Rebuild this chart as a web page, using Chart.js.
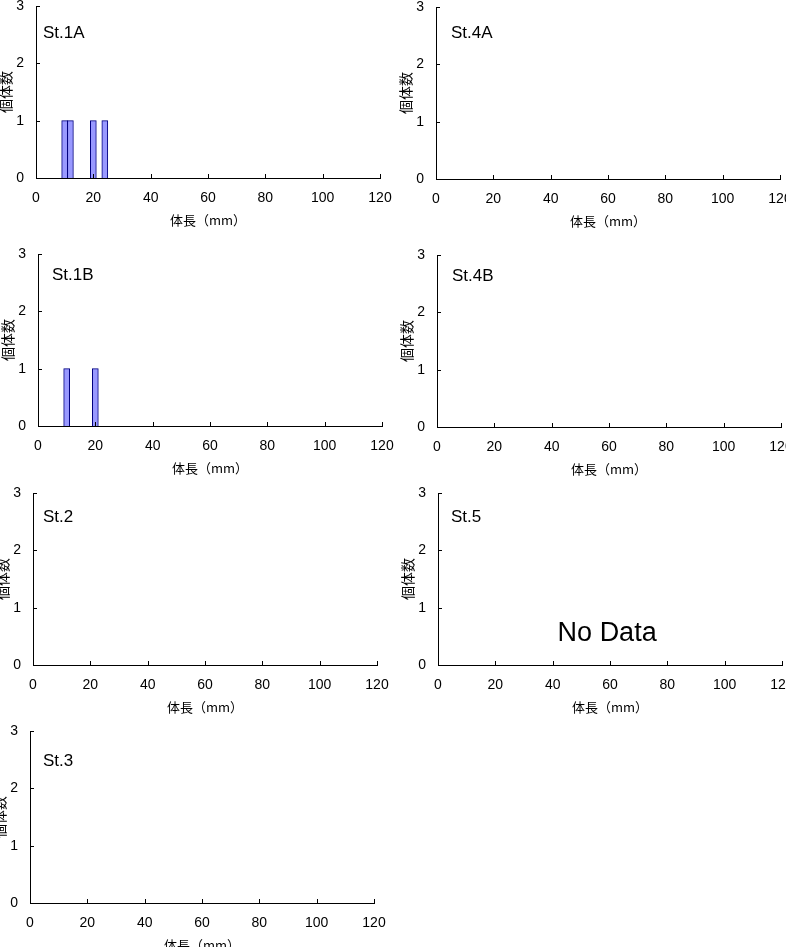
<!DOCTYPE html>
<html>
<head>
<meta charset="utf-8">
<script src="https://cdn.jsdelivr.net/npm/chart.js@4"></script>
<style>
  html, body { margin: 0; padding: 0; background: #fff; }
  body { width: 786px; height: 947px; position: relative; overflow: hidden; }
  .panel { position: absolute; }
</style>
</head>
<body>
<script>
// 体長ヒストグラム (各ステーション)
const xTicks = [0, 20, 40, 60, 80, 100, 120];
const yTicks = [0, 1, 2, 3];
const stations = ["St.1A", "St.4A", "St.1B", "St.4B", "St.2", "St.5", "St.3"];

const st1aLength = [10, 12, 20, 24];
const st1aCount = [1, 1, 1, 1];
const st4aLength = [];
const st4aCount = [];
const st1bLength = [10, 20];
const st1bCount = [1, 1];
const st4bLength = [];
const st4bCount = [];
const st2Length = [];
const st2Count = [];
const st5Length = [];
const st5Count = [];
const st3Length = [];
const st3Count = [];

const lengths = [st1aLength, st4aLength, st1bLength, st4bLength, st2Length, st5Length, st3Length];
const counts = [st1aCount, st4aCount, st1bCount, st4bCount, st2Count, st5Count, st3Count];
const notes = { "St.5": "No Data" };

// 配置 (軸の原点と、ラベルの位置)
const panels = [
  { axisX: 36,  top: 6,   dx: 7,  dy: 27 },
  { axisX: 436, top: 7,   dx: 15, dy: 26 },
  { axisX: 38,  top: 254, dx: 14, dy: 21 },
  { axisX: 437, top: 255, dx: 15, dy: 21 },
  { axisX: 33,  top: 493, dx: 10, dy: 24 },
  { axisX: 438, top: 493, dx: 13, dy: 24 },
  { axisX: 30,  top: 731, dx: 13, dy: 30 }
];

const PLOT_W = 344, PLOT_H = 172;
const Y_AXIS_W = 40, X_AXIS_H = 50, PAD_TOP = 10, PAD_RIGHT = 20;
const numFont = { family: "'Liberation Sans', Arial, sans-serif", size: 14 };
const jpFont = { family: "'Noto Sans CJK JP', sans-serif", size: 13 };
const jpFontY = { family: "'Noto Sans CJK JP', sans-serif", size: 14 };

// 内向きの目盛りとステーション名
const panelDecor = {
  id: "panelDecor",
  afterDraw(chart, args, opts) {
    const { ctx, scales: { x, y } } = chart;
    ctx.save();
    ctx.strokeStyle = "#000";
    ctx.lineWidth = 1;
    ctx.beginPath();
    x.ticks.forEach(t => {
      if (t.value === x.min) return;
      const px = Math.round(x.getPixelForValue(t.value)) + 0.5;
      ctx.moveTo(px, y.bottom);
      ctx.lineTo(px, y.bottom - 4);
    });
    y.ticks.forEach(t => {
      if (t.value === y.min) return;
      const py = Math.round(y.getPixelForValue(t.value)) + 0.5;
      ctx.moveTo(x.left, py);
      ctx.lineTo(x.left + 4, py);
    });
    ctx.stroke();

    ctx.fillStyle = "#000";
    ctx.textBaseline = "middle";
    ctx.textAlign = "left";
    ctx.font = "17px 'Liberation Sans', Arial, sans-serif";
    ctx.fillText(opts.name, x.left + opts.dx, y.top + opts.dy);

    if (opts.note) {
      ctx.textAlign = "center";
      ctx.font = "27px 'Liberation Sans', Arial, sans-serif";
      ctx.fillText(opts.note, x.getPixelForValue(59), y.getPixelForValue(0.55));
    }
    ctx.restore();
  }
};

stations.forEach((name, i) => {
  const p = panels[i];
  const canvas = document.createElement("canvas");
  canvas.className = "panel";
  const w = Y_AXIS_W + PLOT_W + PAD_RIGHT;
  const h = PAD_TOP + PLOT_H + X_AXIS_H;
  canvas.width = w;
  canvas.height = h;
  canvas.style.width = w + "px";
  canvas.style.height = h + "px";
  canvas.style.left = (p.axisX - Y_AXIS_W) + "px";
  canvas.style.top = (p.top - PAD_TOP) + "px";
  document.body.appendChild(canvas);

  const points = lengths[i].map((v, k) => ({ x: v, y: counts[i][k] }));

  new Chart(canvas.getContext("2d"), {
    type: "bar",
    data: {
      datasets: [{
        label: name,
        data: points,
        backgroundColor: "#9999ff",
        borderColor: "#000080",
        borderWidth: 1,
        barThickness: 6
      }]
    },
    options: {
      responsive: false,
      animation: false,
      layout: { padding: { top: PAD_TOP, right: PAD_RIGHT, left: 0, bottom: 0 } },
      plugins: {
        legend: { display: false },
        tooltip: { enabled: false },
        panelDecor: { name: name, dx: p.dx, dy: p.dy, note: notes[name] }
      },
      scales: {
        x: {
          type: "linear",
          offset: false,
          min: xTicks[0],
          max: xTicks[xTicks.length - 1],
          afterFit: s => { s.height = X_AXIS_H; s.paddingLeft = 0; s.paddingRight = 0; },
          grid: { display: false, drawTicks: false },
          border: { display: true, color: "#000", width: 1 },
          ticks: { stepSize: 20, padding: 12, color: "#000", font: numFont, maxRotation: 0 },
          title: { display: true, text: "体長（mm）", color: "#000", font: jpFont, padding: { top: 0, bottom: 0 } }
        },
        y: {
          min: yTicks[0],
          max: yTicks[yTicks.length - 1],
          afterFit: s => { s.width = Y_AXIS_W; s.paddingTop = 0; s.paddingBottom = 0; },
          grid: { display: false, drawTicks: false },
          border: { display: true, color: "#000", width: 1 },
          ticks: { stepSize: 1, padding: 12, color: "#000", font: numFont },
          title: { display: true, text: "個体数", color: "#000", font: jpFontY, padding: { top: 1, bottom: 0 } }
        }
      }
    },
    plugins: [panelDecor]
  });
});
</script>
</body>
</html>
